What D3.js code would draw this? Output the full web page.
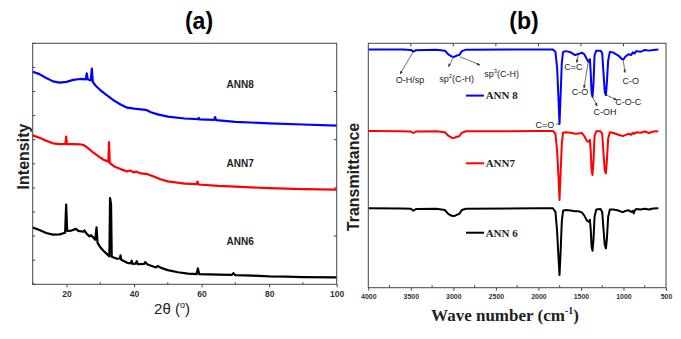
<!DOCTYPE html>
<html>
<head>
<meta charset="utf-8">
<script src="https://cdn.jsdelivr.net/npm/d3@7"></script>
<style>
body { margin: 0; background: #fff; }
svg { display: block; }
</style>
</head>
<body>
<div id="chart"></div>
<script>
// panel (a): XRD, 2theta vs intensity (offset curves)
var xrdTicks = [20, 40, 60, 80, 100];
var xrdMinor = [10, 30, 50, 70, 90];
var xrdNames = ["ANN8", "ANN7", "ANN6"];
var xrdColors = ["#0000ff", "#ff0000", "#000000"];
var xrdLabelY = [82.7, 50.3, 17.6];

var ann8 = [[10,88.2],[12,87.2],[14,85.6],[16,84.2],[18,83.7],[20,84.0],[22,84.8],[24,85.2],[25.7,85.0],[26.0,87.5],[26.3,85.1],[27.2,84.6],[27.5,89.5],[27.8,84.0],[28.5,82.6],[30,80.6],[32,78.4],[34,76.3],[36,74.6],[38,73.3],[40,72.9],[42,72.6],[43.5,72.4],[45,71.4],[47,70.5],[50,69.6],[55,68.8],[59,68.5],[59.2,69.0],[59.4,68.4],[63.7,68.2],[64.0,69.4],[64.3,68.1],[70,67.4],[80,66.8],[90,66.3],[100,65.8]];
var ann7 = [[10,61.8],[12,60.8],[14,59.6],[16,58.5],[18,58.2],[19.7,58.3],[19.9,61.3],[20.1,58.2],[22,58.2],[24,58.1],[25,57.8],[26,56.9],[27,55.8],[28,54.6],[29,53.6],[30,52.6],[31,51.7],[32.4,50.9],[32.6,59.0],[32.8,50.4],[34,49.0],[36,47.8],[38,46.8],[38.8,47.2],[40,46.4],[40.6,46.8],[42,46.0],[44,45.7],[46,44.6],[48,43.5],[50,42.7],[55,41.8],[58.5,41.6],[58.8,42.6],[59.1,41.4],[65,40.8],[70,40.5],[80,39.9],[90,39.5],[100,39.3]];
var ann6 = [[10,23.6],[12,22.5],[14,21.3],[16,20.6],[18,20.7],[19.6,21.4],[19.9,33.1],[20.2,22.2],[21.5,22.3],[22.8,23.0],[23.5,22.2],[25,21.8],[25.3,22.4],[26,20.9],[26.8,19.9],[27.3,20.4],[28.5,18.5],[28.9,23.6],[29.2,17.2],[30,15.4],[31,13.8],[32,12.5],[32.7,11.6],[32.9,35.8],[33.2,33.0],[33.4,11.4],[35,10.6],[35.8,10.7],[36.0,12.0],[36.2,10.2],[38,8.9],[39,8.7],[39.3,9.8],[39.6,8.5],[40.5,8.6],[40.8,9.6],[41.1,8.4],[43,8.5],[43.3,9.2],[44,8.2],[46.5,7.0],[47,7.6],[48,6.8],[50,5.9],[53,5.0],[56,4.4],[58.5,4.2],[58.9,6.6],[59.3,4.2],[62,4.1],[65,4.0],[69,3.9],[69.4,4.6],[70,3.8],[75,3.6],[80,3.3],[85,3.2],[90,3.0],[100,2.9]];

// panel (b): FTIR, wave number vs transmittance
var irTicks = [4000, 3500, 3000, 2500, 2000, 1500, 1000, 500];
var irMinor = [3750, 3250, 2750, 2250, 1750, 1250, 750];
var irNames = ["ANN 8", "ANN7", "ANN 6"];
var irLegendY = [78.6, 50.9, 22.5];

var ir8 = [[4000,97.5],[3600,97.5],[3500,97.3],[3470,96.6],[3440,97.2],[3200,97.4],[3100,97.0],[3060,95.5],[3020,94.6],[2990,94.4],[2960,95.0],[2930,95.2],[2900,96.8],[2850,97.4],[2000,97.5],[1830,97.5],[1800,96.5],[1780,90],[1765,78],[1752,67.0],[1740,78],[1725,92],[1710,96.5],[1680,96.8],[1620,96.3],[1570,95.2],[1530,95.6],[1490,96.2],[1460,95.5],[1430,93.5],[1411,92.5],[1395,93.5],[1385,88],[1375,80],[1364,78.1],[1352,84],[1340,95],[1320,97],[1270,97],[1250,96],[1235,88],[1220,80],[1206,78.8],[1195,84],[1180,93],[1160,96.5],[1120,96.2],[1060,95],[1020,93.6],[1000,93.4],[980,94.5],[940,95.5],[910,95.2],[890,96.3],[870,95.8],[850,96.8],[800,96.5],[750,97.3],[700,97],[650,97.3],[590,97.5]];
var ir7 = [[4000,64.1],[3600,64.0],[3500,63.9],[3470,63.3],[3440,63.9],[3200,64.0],[3100,63.6],[3060,62.2],[3020,61.4],[2990,61.3],[2960,61.8],[2930,62.0],[2900,63.4],[2850,64.0],[2000,64.1],[1830,64.1],[1800,63],[1780,56],[1765,46],[1752,35.9],[1740,46],[1725,59],[1710,63.4],[1680,63.6],[1620,63.4],[1570,63.0],[1530,63.1],[1490,63.3],[1460,62],[1430,60],[1411,59.7],[1395,60.5],[1385,56],[1375,48],[1364,46.1],[1352,52],[1340,62],[1320,64],[1270,64],[1250,63],[1235,55],[1220,48],[1206,46.8],[1195,52],[1180,61],[1160,63.6],[1120,63.3],[1060,62.6],[1020,62.2],[1000,62.1],[980,62.4],[940,63.0],[910,62.6],[890,63.3],[870,63],[850,63.6],[800,63.4],[750,63.9],[700,63.3],[650,63.9],[590,64]];
var ir6 = [[4000,32.5],[3600,32.4],[3500,32.3],[3470,31.5],[3440,32.2],[3200,32.3],[3100,31.8],[3060,30.2],[3020,29.4],[2990,29.3],[2960,29.8],[2930,30.2],[2900,31.8],[2850,32.3],[2000,32.5],[1830,32.5],[1800,31],[1780,23],[1765,13],[1752,5.2],[1740,14],[1725,27],[1710,31.5],[1680,31.8],[1620,31.6],[1570,31.3],[1530,31.3],[1490,30.8],[1460,29.5],[1430,27.5],[1411,27],[1395,27.8],[1385,24],[1375,17],[1364,15.1],[1352,20],[1340,29],[1320,32],[1270,32.2],[1250,31],[1235,24],[1220,17.5],[1206,16.1],[1195,20],[1180,29],[1160,32],[1120,32],[1060,31.6],[1020,31.0],[1000,31.0],[980,31.4],[940,31.7],[910,31.0],[890,31.5],[880,30.4],[865,31.8],[850,32.2],[800,32],[750,32.3],[700,32],[650,32.4],[590,32.5]];

// band assignments: [label, from w, from v, to w, to v, label w, label v]
var bands = [
  ["O-H/sp", 3471, 96.6, 3627, 87.4, 3510, 85.0],
  ["sp2(C-H)", 2989, 94.8, 3059, 90.4, 2961, 85.3],
  ["sp3(C-H)", 2922, 94.5, 2687, 91.1, 2432, 87.7],
  ["C=C", 1531, 95.2, 1550, 92.1, 1590, 90.2],
  ["C-O", 1414, 92.5, 1464, 81.6, 1511, 80.2],
  ["C-OH", 1367, 78.2, 1308, 74.3, 1217, 72.0],
  ["C-O-C", 1197, 78.8, 1080, 76.8, 943, 76.1],
  ["C-O", 1002, 92.9, 982, 88.0, 915, 84.7]
];
var coLabel = ["C=O", 1755, 67.0, 1790, 67.0, 1923, 66.6];

var svg = d3.select("#chart").append("svg").attr("width", 681).attr("height", 339);
var sans = "'Liberation Sans', Arial, sans-serif";
var serif = "'Liberation Serif', 'Times New Roman', serif";

svg.append("defs").append("marker").attr("id", "arr").attr("viewBox", "0 0 10 10")
  .attr("refX", 9).attr("refY", 5).attr("markerWidth", 5).attr("markerHeight", 5).attr("orient", "auto")
  .append("path").attr("d", "M0,1L10,5L0,9Z").attr("fill", "#333");

// ---------- (a) ----------
var xa = d3.scaleLinear().domain([10, 100]).range([32.7, 336.7]);
var ya = d3.scaleLinear().domain([0, 100]).range([284.3, 43.3]);
var ga = svg.append("g");

var lineA = d3.line().x(d => xa(d[0])).y(d => ya(d[1]));
[ann8, ann7, ann6].forEach(function(s, i) {
  ga.append("path").attr("d", lineA(s)).attr("fill", "none").attr("stroke", xrdColors[i])
    .attr("stroke-width", 2.2).attr("stroke-linejoin", "round");
});

ga.append("rect").attr("x", xa(10)).attr("y", ya(100)).attr("width", xa(100) - xa(10)).attr("height", ya(0) - ya(100))
  .attr("fill", "none").attr("stroke", "#444").attr("stroke-width", 1);

var axA = ga.append("g").attr("transform", "translate(0," + ya(0) + ")")
  .call(d3.axisBottom(xa).tickValues(xrdTicks).tickSize(3).tickSizeOuter(0).tickPadding(4).tickFormat(d3.format("d")));
axA.select(".domain").remove();
axA.selectAll("text").attr("font-family", sans).attr("font-size", 8.5).attr("font-weight", "bold").attr("fill", "#333");
axA.selectAll("line").attr("stroke", "#444");
ga.selectAll(".minx").data(xrdMinor).enter().append("line")
  .attr("x1", d => xa(d)).attr("x2", d => xa(d)).attr("y1", ya(0)).attr("y2", ya(0) - 2).attr("stroke", "#444");

var yTicksA = d3.range(0, 101, 10);
ga.selectAll(".ly").data(yTicksA).enter().append("line")
  .attr("x1", xa(10)).attr("x2", xa(10) + 2.5).attr("y1", d => ya(d)).attr("y2", d => ya(d)).attr("stroke", "#444");
ga.selectAll(".ry").data([20, 40, 60, 80]).enter().append("line")
  .attr("x1", xa(100)).attr("x2", xa(100) - 3).attr("y1", d => ya(d)).attr("y2", d => ya(d)).attr("stroke", "#444");

xrdNames.forEach(function(n, i) {
  ga.append("text").attr("x", xa(71.4)).attr("y", ya(xrdLabelY[i])).attr("dy", "0.35em")
    .attr("text-anchor", "middle").attr("font-family", sans).attr("font-size", 10).attr("font-weight", "bold")
    .attr("fill", "#222").text(n);
});

svg.append("text").attr("x", 199).attr("y", 28.5).attr("text-anchor", "middle").attr("font-family", sans)
  .attr("font-size", 23).attr("font-weight", "bold").text("(a)");
svg.append("text").attr("transform", "translate(28.5,156.5) rotate(-90)").attr("text-anchor", "middle")
  .attr("font-family", sans).attr("font-size", 16).attr("font-weight", "bold").attr("fill", "#222").text("Intensity");
var xl = svg.append("text").attr("x", 172).attr("y", 314).attr("text-anchor", "middle")
  .attr("font-family", sans).attr("font-size", 15).attr("fill", "#222");
xl.append("tspan").text("2\u03b8 (");
xl.append("tspan").attr("font-size", 9).attr("dy", -6).text("o");
xl.append("tspan").attr("dy", 6).text(")");

// ---------- (b) ----------
var xb = d3.scaleLinear().domain([4000, 500]).range([368.3, 666]);
var yb = d3.scaleLinear().domain([0, 100]).range([287.7, 43.3]);
var gb = svg.append("g");

var lineB = d3.line().x(d => xb(d[0])).y(d => yb(d[1]));
[ir8, ir7, ir6].forEach(function(s, i) {
  gb.append("path").attr("d", lineB(s)).attr("fill", "none").attr("stroke", xrdColors[i])
    .attr("stroke-width", 2).attr("stroke-linejoin", "round");
});

gb.append("rect").attr("x", xb(4000)).attr("y", yb(100)).attr("width", xb(500) - xb(4000)).attr("height", yb(0) - yb(100))
  .attr("fill", "none").attr("stroke", "#444").attr("stroke-width", 1);

var axB = gb.append("g").attr("transform", "translate(0," + yb(0) + ")")
  .call(d3.axisBottom(xb).tickValues(irTicks).tickSize(3).tickSizeOuter(0).tickPadding(3).tickFormat(d3.format("d")));
axB.select(".domain").remove();
axB.selectAll("text").attr("font-family", sans).attr("font-size", 7).attr("font-weight", "bold").attr("fill", "#333");
axB.selectAll("line").attr("stroke", "#444");
gb.selectAll(".minb").data(irMinor).enter().append("line")
  .attr("x1", d => xb(d)).attr("x2", d => xb(d)).attr("y1", yb(0)).attr("y2", yb(0) - 2.5).attr("stroke", "#444");
gb.selectAll(".topb").data(irTicks.slice(1, -1)).enter().append("line")
  .attr("x1", d => xb(d)).attr("x2", d => xb(d)).attr("y1", yb(100)).attr("y2", yb(100) + 3).attr("stroke", "#444");

// legend
irNames.forEach(function(n, i) {
  gb.append("line").attr("x1", xb(2851)).attr("x2", xb(2640)).attr("y1", yb(irLegendY[i])).attr("y2", yb(irLegendY[i]))
    .attr("stroke", xrdColors[i]).attr("stroke-width", 2);
  gb.append("text").attr("x", xb(2620)).attr("y", yb(irLegendY[i])).attr("dy", "0.35em")
    .attr("font-family", serif).attr("font-size", 11).attr("font-weight", "bold").attr("fill", "#222").text(n);
});

// band labels
bands.forEach(function(b) {
  gb.append("line").attr("x1", xb(b[1])).attr("y1", yb(b[2])).attr("x2", xb(b[3])).attr("y2", yb(b[4]))
    .attr("stroke", "#333").attr("stroke-width", 0.7).attr("marker-end", "url(#arr)");
  var t = gb.append("text").attr("x", xb(b[5])).attr("y", yb(b[6])).attr("dy", "0.35em")
    .attr("text-anchor", "middle").attr("font-family", sans).attr("font-size", 9).attr("fill", "#222");
  var m = b[0].match(/^sp(\d)(.*)$/);
  if (m) {
    t.append("tspan").text("sp");
    t.append("tspan").attr("font-size", 6).attr("dy", -4).text(m[1]);
    t.append("tspan").attr("dy", 4).text(m[2]);
  } else {
    t.text(b[0]);
  }
});
gb.append("line").attr("x1", xb(coLabel[1])).attr("y1", yb(coLabel[2])).attr("x2", xb(coLabel[3])).attr("y2", yb(coLabel[4]))
  .attr("stroke", "#333").attr("stroke-width", 0.8);
gb.append("text").attr("x", xb(coLabel[5])).attr("y", yb(coLabel[6])).attr("dy", "0.35em")
  .attr("text-anchor", "middle").attr("font-family", sans).attr("font-size", 9).attr("fill", "#222").text(coLabel[0]);

svg.append("text").attr("x", 524).attr("y", 28.5).attr("text-anchor", "middle").attr("font-family", sans)
  .attr("font-size", 23).attr("font-weight", "bold").text("(b)");
svg.append("text").attr("transform", "translate(359,177) rotate(-90)").attr("text-anchor", "middle")
  .attr("font-family", sans).attr("font-size", 16).attr("font-weight", "bold").attr("fill", "#222").text("Transmittance");
var xlb = svg.append("text").attr("x", 505).attr("y", 321).attr("text-anchor", "middle")
  .attr("font-family", serif).attr("font-size", 17).attr("font-weight", "bold").attr("fill", "#222");
xlb.append("tspan").text("Wave number (cm");
xlb.append("tspan").attr("font-size", 10).attr("dy", -7).text("-1");
xlb.append("tspan").attr("dy", 7).text(")");
</script>
</body>
</html>
